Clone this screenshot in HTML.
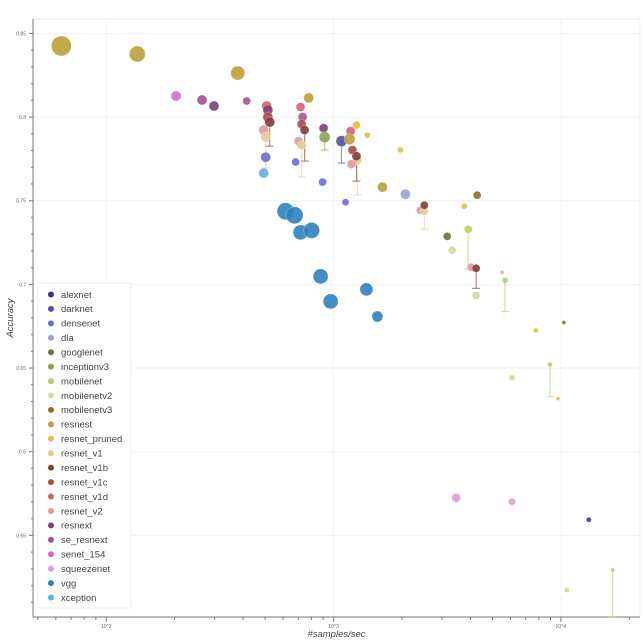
<!DOCTYPE html>
<html><head><meta charset="utf-8"><style>
html,body{margin:0;padding:0;background:#fff;width:643px;height:643px;overflow:hidden}
svg{display:block;font-family:"Liberation Sans",sans-serif}
</style></head><body>
<svg id="chart" width="643" height="643" viewBox="0 0 643 643" xmlns="http://www.w3.org/2000/svg"></svg>
<script>
const families = ["alexnet","darknet","densenet","dla","googlenet","inceptionv3","mobilenet","mobilenetv2","mobilenetv3","resnest","resnet_pruned","resnet_v1","resnet_v1b","resnet_v1c","resnet_v1d","resnet_v2","resnext","se_resnext","senet_154","squeezenet","vgg","xception"];
const familyColors = ["#393b79","#5254a3","#6b6ecf","#9c9ede","#637939","#8ca252","#b5cf6b","#cedb9c","#8c6d31","#bd9e39","#e7ba52","#e7cb94","#843c39","#ad494a","#d6616b","#e7969c","#7b4173","#a55194","#ce6dbd","#de9ed6","#3182bd","#6baed6"];
const yTicks = [0.55,0.6,0.65,0.7,0.75,0.8,0.85];
const yTickLabels = ["0.55","0.6","0.65","0.7","0.75","0.8","0.85"];
const xDecades = [2,3,4];
const xTickLabels = ["10^2","10^3","10^4"];
// [family, samples/sec, accuracy, marker size, error-bar lower accuracy or null]
const pointFamily = ["resnest","resnest","resnest","resnest","resnest","senet_154","se_resnext","resnext","se_resnext",
 "resnet_v1d","resnext","resnet_v1c","resnet_v1b","resnet_v2","resnet_v1","densenet","xception",
 "resnet_v1d","se_resnext","resnet_v1c","resnet_v1b","resnet_v2","resnet_v1","densenet",
 "resnext","inceptionv3","densenet","darknet","resnet_v1d","resnet_pruned","resnest","resnet_pruned","resnet_v1c","resnet_v1","resnet_v1b","resnet_v2","resnet_pruned","dla","densenet",
 "resnet_v2","resnet_v1","resnet_v1b","mobilenetv3","resnet_pruned","googlenet","mobilenetv2","mobilenet","resnet_v2","resnet_v1b","resnet_pruned","mobilenet","mobilenetv2",
 "mobilenetv2","mobilenet","resnet_pruned","resnet_pruned","mobilenetv3","squeezenet","squeezenet","alexnet","mobilenetv2","mobilenet",
 "vgg","vgg","vgg","vgg","vgg","vgg","vgg","vgg"];
const pointSamples = [63.5,137,379,777,1640,203,264,298,415,
 508,514,514,524,493,503,503,493,
 716,731,724,746,702,724,681,
 904,914,895,1084,1188,1261,1175,1409,1211,1274,1261,1200,1967,2070,1129,
 2409,2508,2508,4283,3756,3162,3325,3911,4030,4238,5513,5680,4238,
 6095,8954,7762,9703,10310,3462,6095,13270,10620,16900,
 615,674,716,801,877,971,1395,1559];
const pointAccuracy = [0.8425,0.8377,0.8263,0.8114,0.7581,0.8126,0.8102,0.8066,0.8096,
 0.8066,0.8042,0.8000,0.7970,0.7922,0.7880,0.7760,0.7665,
 0.8060,0.8000,0.7958,0.7922,0.7856,0.7832,0.7731,
 0.7934,0.7880,0.7611,0.7856,0.7916,0.7952,0.7868,0.7892,0.7803,0.7743,0.7766,0.7719,0.7803,0.7539,0.7491,
 0.7443,0.7437,0.7473,0.7533,0.7467,0.7287,0.7204,0.7329,0.7102,0.7096,0.7072,0.7024,0.6934,
 0.6443,0.6521,0.6725,0.6317,0.6772,0.5724,0.5701,0.5593,0.5173,0.5293,
 0.7437,0.7413,0.7311,0.7323,0.7048,0.6898,0.6970,0.6808];
const pointSize = [10,8,7,5,5,5,5,5,4,
 5,5,5,5,5,5,5,5,
 4.5,4.5,4.5,4.5,4.5,4.5,4,
 4.5,5.5,4,5.5,4.5,4,5.5,3,4.5,4.5,4.5,4.5,3,5,3.5,
 4,4,4,4,3,4,4,4,4,4,2,3,4,
 3,2.5,2.5,2,2,4.5,3.5,2.5,2.5,2,
 8.5,8.5,7.5,8,7.5,7.5,6.5,5.5];
const pointErrLow = [null,null,null,null,null,null,null,null,null,
 null,null,null,0.7826,null,0.7695,null,null,
 null,null,null,0.7737,null,0.7641,null,
 null,0.7803,null,0.7725,null,null,null,null,null,0.7533,0.7617,null,null,null,null,
 null,0.7329,null,null,null,null,null,0.7090,null,0.6976,null,0.6838,null,
 null,0.6329,null,null,null,null,null,null,null,0.5012,
 null,null,null,null,null,null,null,null];

const NS="http://www.w3.org/2000/svg";
const svg=document.getElementById('chart');
const L=33,R=640,T=19,B=617;
const xMinE=1.678,xMaxE=4.348;
const yMin=0.5012,yMax=0.8586;
function xs(v){return L+(Math.log10(v)-xMinE)/(xMaxE-xMinE)*(R-L);}
function xe(e){return L+(e-xMinE)/(xMaxE-xMinE)*(R-L);}
function ys(v){return B-(v-yMin)/(yMax-yMin)*(B-T);}
function mk(tag,attrs,parent){const e=document.createElementNS(NS,tag);for(const k in attrs)e.setAttribute(k,attrs[k]);(parent||svg).appendChild(e);return e;}

const frame=mk('rect',{x:L,y:T,width:R-L,height:B-T,fill:'#fff',stroke:'#ececec','stroke-width':1});



// grid
const grid=mk('g',{});


yTicks.forEach(t=>{const y=ys(t);mk('line',{x1:L,x2:R,y1:y,y2:y,stroke:'#f0f0f0','stroke-width':1},grid);});
xDecades.forEach(d=>{const x=xe(d);mk('line',{x1:x,x2:x,y1:T,y2:B,stroke:'#f4f4f4','stroke-width':1},grid);});

// axes
const yAxis=mk('g',{});


mk('line',{x1:L,x2:L,y1:T,y2:B,stroke:'#777','stroke-width':1},yAxis);
for(let i=51;i<=85;i++){const v=i/100;const y=ys(v);const major=i%5===0;mk('line',{x1:L-(major?4:2),x2:L,y1:y,y2:y,stroke:'#777','stroke-width':1},yAxis);}
yTicks.forEach((t,i)=>{const tx=mk('text',{x:L-7,y:ys(t)+2,'text-anchor':'end','font-size':5,fill:'#666'},yAxis);tx.textContent=yTickLabels[i];});
const xAxis=mk('g',{});


mk('line',{x1:L,x2:R,y1:B,y2:B,stroke:'#777','stroke-width':1},xAxis);
for(let d=1;d<=4;d++){for(let m=1;m<=9;m++){const e=d+Math.log10(m);if(e<xMinE||e>xMaxE)continue;const x=xe(e);mk('line',{x1:x,x2:x,y1:B,y2:B+(m===1?5:3),stroke:'#777','stroke-width':1},xAxis);}}
xDecades.forEach((d,i)=>{const tx=mk('text',{x:xe(d),y:B+11,'text-anchor':'middle','font-size':5,fill:'#666'},xAxis);tx.textContent=xTickLabels[i];});
const xt=mk('text',{x:(L+R)/2,y:637,'text-anchor':'middle','font-size':9.5,'font-style':'italic',fill:'#444'});
xt.textContent='#samples/sec';


const yt=mk('text',{x:0,y:0,'text-anchor':'middle','font-size':9.5,'font-style':'italic',fill:'#444',transform:'translate(13,318) rotate(-90)'});
yt.textContent='Accuracy';



// error bars
const eg=mk('g',{});


pointSamples.forEach((s,i)=>{if(pointErrLow[i]===null)return;const c=familyColors[families.indexOf(pointFamily[i])];const x=xs(s),y1=ys(pointAccuracy[i]),y2=ys(pointErrLow[i]);
 mk('line',{x1:x,x2:x,y1:y1,y2:y2,stroke:c,'stroke-opacity':0.6,'stroke-width':1.2},eg);
 mk('line',{x1:x-4,x2:x+4,y1:y2,y2:y2,stroke:c,'stroke-opacity':0.6,'stroke-width':1.2},eg);});

// points
const pg=mk('g',{});


pointSamples.forEach((s,i)=>{const c=familyColors[families.indexOf(pointFamily[i])];
 const p=mk('circle',{cx:xs(s),cy:ys(pointAccuracy[i]),r:pointSize[i],fill:c,'fill-opacity':0.9,stroke:'#fff','stroke-opacity':0.5,'stroke-width':0.5},pg);
 
 });

// legend
const lg=mk('g',{});


mk('rect',{x:38,y:283,width:93,height:325,fill:'#fff','fill-opacity':0.95,stroke:'#eeeeee','stroke-width':1},lg);
families.forEach((f,i)=>{const y=294.5+i*14.43;const g=mk('g',{},lg);
 
 
 mk('circle',{cx:51,cy:y,r:3,fill:familyColors[i]},g);
 const t=mk('text',{x:61,y:y+3.3,'font-size':9.5,fill:'#444'},g);t.textContent=f;});
</script>
</body></html>
